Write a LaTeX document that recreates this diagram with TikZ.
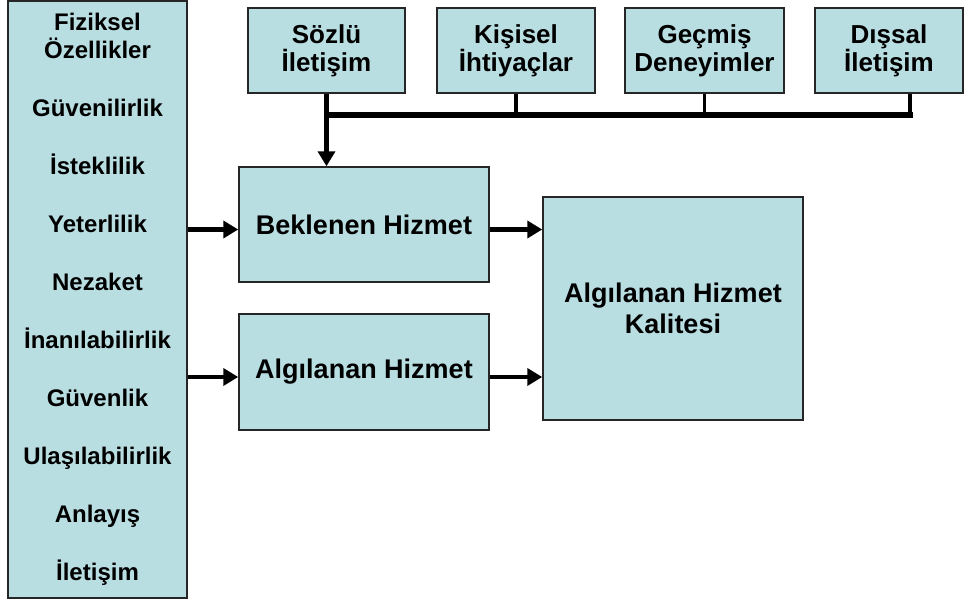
\documentclass[tikz,border=0pt]{standalone}
\usepackage{fontspec}
\setmainfont{Liberation Sans}
\usetikzlibrary{arrows.meta,positioning}
\definecolor{boxcyan}{HTML}{B9DEE2}
\definecolor{boxedge}{HTML}{262626}
\tikzset{
  box/.style     = {draw=boxedge, line width=1.5pt, fill=boxcyan, align=center,
                    inner sep=0pt, font=\fontsize{27}{31}\selectfont\bfseries},
  topbox/.style  = {box, minimum width=158, minimum height=85,
                    font=\fontsize{26}{28}\selectfont\bfseries},
  critbox/.style = {box, minimum width=179, minimum height=597,
                    font=\fontsize{24}{28}\selectfont\bfseries},
  sig/.style     = {-{Triangle[length=15pt,width=17pt]}, line width=4.5pt},
  bus/.style     = {line width=6pt, line cap=rect},
  stub/.style    = {line width=3.5pt},
}
\begin{document}
\begin{tikzpicture}[x=1pt,y=-1pt]
  \useasboundingbox (0,0) rectangle (964,605);
  % criteria column on the left
  \node[critbox] (crit) at (97.5,299.5)
    {Fiziksel\\Özellikler\\[30pt]Güvenilirlik\\[30pt]İsteklilik\\[30pt]Yeterlilik\\[30pt]Nezaket\\[30pt]İnanılabilirlik\\[30pt]Güvenlik\\[30pt]Ulaşılabilirlik\\[30pt]Anlayış\\[30pt]İletişim};
  % expectation sources along the top
  \node[topbox, minimum width=157] (soz) at (326.5,50.5) {Sözlü\\İletişim};
  \node[topbox] (kis) at (516,50.5) {Kişisel\\İhtiyaçlar};
  \node[topbox, minimum width=159] (gec) at (704.5,50.5) {Geçmiş\\Deneyimler};
  \node[topbox, minimum width=148] (dis) at (889,50.5) {Dışsal\\İletişim};
  % service blocks
  \node[box, minimum width=250, minimum height=115] (bek) at (364,224.5) {Beklenen Hizmet};
  \node[box, minimum width=250, minimum height=116] (alg) at (364,372) {Algılanan Hizmet};
  \node[box, minimum width=260, minimum height=223] (kal) at (673,308.5) {Algılanan Hizmet\\Kalitesi};
  % collecting bus under the top boxes
  \coordinate (bus) at (0,115);
  \draw[stub] (kis.south) -- (kis.south |- bus);
  \draw[stub] (gec.south) -- (gec.south |- bus);
  \draw[stub] ([xshift=21pt]dis.south) -- ([xshift=21pt]dis.south |- bus);
  \draw[bus] (soz.south |- bus) -- ([xshift=21pt]dis.south |- bus);
  \draw[sig] (soz.south) -- (soz.south |- bek.north);
  % flows into the quality block, a little under the box middles
  \coordinate (bekin) at ([yshift=-5pt]bek.west);
  \coordinate (algin) at ([yshift=-5pt]alg.west);
  \draw[sig] (crit.east |- bekin) -- (bekin);
  \draw[sig] (crit.east |- algin) -- (algin);
  \draw[sig] ([yshift=-5pt]bek.east) -- (kal.west |- bekin);
  \draw[sig] ([yshift=-5pt]alg.east) -- (kal.west |- algin);
\end{tikzpicture}
\end{document}
